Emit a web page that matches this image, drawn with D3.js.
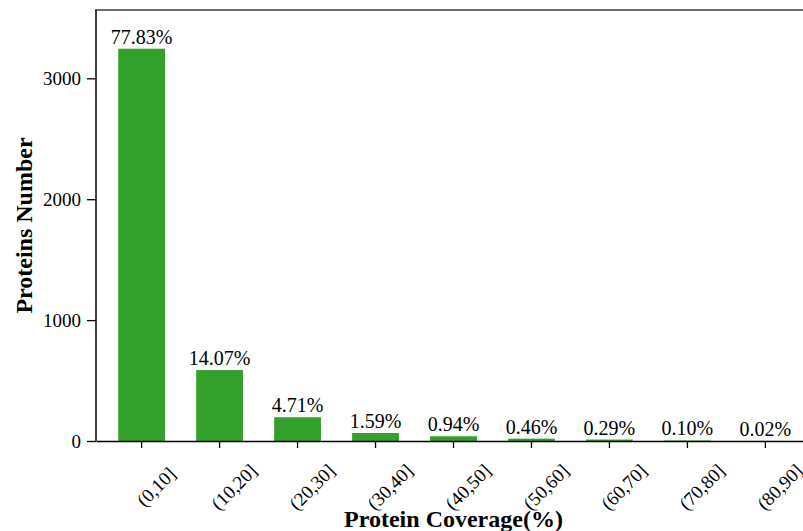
<!DOCTYPE html>
<html>
<head>
<meta charset="utf-8">
<script src="https://cdn.jsdelivr.net/npm/d3@7"></script>
<style>
  html, body { margin: 0; padding: 0; background: #fff; overflow: hidden; }
  svg { display: block; }
  text { font-family: "Liberation Serif", "Times New Roman", serif; fill: #000; }
</style>
</head>
<body>
<svg id="chart" width="803" height="531"></svg>
<script>
// Coverage bins and share of proteins in each bin
const categories = ["(0,10]", "(10,20]", "(20,30]", "(30,40]", "(40,50]", "(50,60]", "(60,70]", "(70,80]", "(80,90]"];
const percents = [77.83, 14.07, 4.71, 1.59, 0.94, 0.46, 0.29, 0.10, 0.02];
const totalProteins = 4169;
const yTicks = [0, 1000, 2000, 3000];

const counts = percents.map(p => p / 100 * totalProteins);

const svg = d3.select("#chart");
const plot = { left: 96, right: 811, top: 10, bottom: 441 };

const x = d3.scaleBand()
  .domain(categories)
  .range([plot.left, plot.right])
  .paddingInner(0.4)
  .paddingOuter(0.285);

const y = d3.scaleLinear()
  .domain([0, 3565])
  .range([plot.bottom, plot.top]);

// Bars
svg.append("g")
  .selectAll("rect")
  .data(categories)
  .join("rect")
  .attr("x", d => x(d))
  .attr("width", x.bandwidth())
  .attr("y", (d, i) => y(counts[i]))
  .attr("height", (d, i) => plot.bottom - y(counts[i]))
  .attr("fill", "#33a02c");

// Percentage labels above the bars
svg.append("g")
  .selectAll("text")
  .data(categories)
  .join("text")
  .attr("x", d => x(d) + x.bandwidth() / 2)
  .attr("y", (d, i) => y(counts[i]) - 5)
  .attr("text-anchor", "middle")
  .style("font-size", "20px")
  .text((d, i) => percents[i].toFixed(2) + "%");

// Top frame line
svg.append("line")
  .attr("x1", plot.left - 1).attr("x2", plot.right)
  .attr("y1", plot.top).attr("y2", plot.top)
  .attr("stroke", "#6e6e6e")
  .attr("stroke-width", 2);

// Y axis
const yAxis = svg.append("g")
  .attr("transform", `translate(${plot.left},0)`)
  .call(d3.axisLeft(y).tickValues(yTicks).tickSize(9).tickPadding(6).tickFormat(d3.format("d")));
yAxis.select(".domain").attr("d", `M0,${plot.top}V${plot.bottom}`).attr("stroke-width", 1.5);
yAxis.selectAll(".tick line").attr("stroke-width", 1.3);
yAxis.selectAll(".tick text").style("font-size", "19px").attr("fill", "#000");

// X axis
const xAxis = svg.append("g")
  .attr("transform", `translate(0,${plot.bottom})`)
  .call(d3.axisBottom(x).tickSize(7).tickSizeOuter(0));
xAxis.select(".domain").attr("stroke-width", 1.5);
xAxis.selectAll(".tick line").attr("stroke-width", 1.3);
xAxis.selectAll(".tick text")
  .style("font-size", "19px")
  .attr("fill", "#000")
  .attr("text-anchor", "middle")
  .attr("dominant-baseline", "central")
  .attr("x", 0).attr("y", 0).attr("dy", null)
  .attr("transform", "translate(14.5,46) rotate(-45)");

// Axis titles
svg.append("text")
  .attr("x", (plot.left + plot.right) / 2)
  .attr("y", 527)
  .attr("text-anchor", "middle")
  .style("font-size", "24px")
  .style("font-weight", "bold")
  .text("Protein Coverage(%)");

svg.append("text")
  .attr("transform", `translate(32,${(plot.top + plot.bottom) / 2}) rotate(-90)`)
  .attr("text-anchor", "middle")
  .style("font-size", "24px")
  .style("font-weight", "bold")
  .text("Proteins Number");
</script>
</body>
</html>
